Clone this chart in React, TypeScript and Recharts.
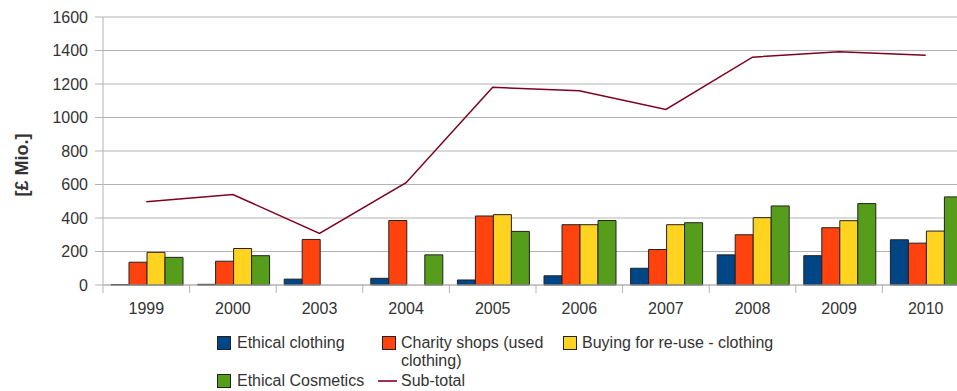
import React from "react"
import { ComposedChart, Bar, Line, XAxis, YAxis, CartesianGrid } from "recharts"

const years = ["1999", "2000", "2003", "2004", "2005", "2006", "2007", "2008", "2009", "2010"]
const ethicalClothing = [3, 4, 35, 40, 30, 55, 100, 180, 175, 270]
const charityShops = [136, 142, 272, 385, 412, 360, 212, 300, 342, 250]
const buyingReuse = [195, 218, null, null, 420, 360, 360, 402, 384, 322]
const ethicalCosmetics = [165, 175, null, 180, 320, 385, 372, 472, 486, 526]
const subTotal = [497, 540, 308, 611, 1180, 1160, 1048, 1360, 1392, 1372]
const yTicks = [0, 200, 400, 600, 800, 1000, 1200, 1400, 1600]

const COLORS = ["#004586", "#ff420e", "#ffd320", "#579d1c", "#7e0021"]
const GRID = "#b3b3b3"
const TEXT = "#333333"
const FONT = "'Liberation Sans', Arial, sans-serif"

const data = years.map((year, i) => ({
  year,
  ethical: ethicalClothing[i],
  charity: charityShops[i],
  reuse: buyingReuse[i],
  cosmetics: ethicalCosmetics[i],
  subtotal: subTotal[i],
}))

const CHART_W = 980
const PLOT_LEFT = 103
const PLOT_RIGHT = 969
const BAND = (PLOT_RIGHT - PLOT_LEFT) / years.length

const XTick = (props: any) => {
  const { x, y, payload, index } = props
  const top = y - 10
  return (
    <g>
      <line x1={x - BAND / 2} x2={x - BAND / 2} y1={top} y2={top + 8} stroke={GRID} />
      {index === years.length - 1 && (
        <line x1={x + BAND / 2} x2={x + BAND / 2} y1={top} y2={top + 8} stroke={GRID} />
      )}
      <text x={x} y={y} dy={19} textAnchor="middle" fill={TEXT} fontSize={16} fontFamily={FONT}>
        {payload.value}
      </text>
    </g>
  )
}

const YLabel = () => (
  <text
    x={28}
    y={165}
    transform="rotate(-90 28 165)"
    textAnchor="middle"
    fill={TEXT}
    fontSize={18}
    fontWeight="bold"
    fontFamily={FONT}
  >
    [£ Mio.]
  </text>
)

const Swatch = ({ color, left, top }: { color: string; left: number; top: number }) => (
  <div
    style={{
      position: "absolute",
      left,
      top,
      width: 12,
      height: 12,
      background: color,
      border: "1px solid #222",
    }}
  />
)

const LegendText = ({ left, top, children }: { left: number; top: number; children: React.ReactNode }) => (
  <div style={{ position: "absolute", left, top, fontSize: 16, lineHeight: "18px", color: TEXT, whiteSpace: "nowrap" }}>
    {children}
  </div>
)

export default function App() {
  return (
    <div
      style={{
        position: "absolute",
        left: 0,
        top: 0,
        width: 957,
        height: 391,
        overflow: "hidden",
        background: "#fff",
        fontFamily: FONT,
      }}
    >
      <ComposedChart
        width={CHART_W}
        height={330}
        data={data}
        margin={{ top: 17, right: CHART_W - PLOT_RIGHT, left: 0, bottom: 0 }}
        barCategoryGap={8}
        barGap={0}
      >
        <CartesianGrid vertical={false} stroke={GRID} />
        <XAxis
          dataKey="year"
          height={45}
          tickSize={8}
          tickMargin={2}
          tickLine={false}
          axisLine={{ stroke: GRID }}
          tick={<XTick />}
          interval={0}
        />
        <YAxis
          width={PLOT_LEFT}
          domain={[0, 1600]}
          ticks={yTicks}
          tickSize={8}
          tickMargin={7}
          tickLine={{ stroke: GRID }}
          axisLine={{ stroke: GRID }}
          tick={{ fill: TEXT, fontSize: 16, fontFamily: FONT }}
          label={<YLabel />}
        />
        <Bar dataKey="ethical" fill={COLORS[0]} stroke="#222" strokeWidth={1} isAnimationActive={false} />
        <Bar dataKey="charity" fill={COLORS[1]} stroke="#222" strokeWidth={1} isAnimationActive={false} />
        <Bar dataKey="reuse" fill={COLORS[2]} stroke="#222" strokeWidth={1} isAnimationActive={false} />
        <Bar dataKey="cosmetics" fill={COLORS[3]} stroke="#222" strokeWidth={1} isAnimationActive={false} />
        <Line
          type="linear"
          dataKey="subtotal"
          stroke={COLORS[4]}
          strokeWidth={1.5}
          dot={false}
          isAnimationActive={false}
        />
      </ComposedChart>

      <Swatch color={COLORS[0]} left={217} top={336} />
      <LegendText left={237} top={334}>Ethical clothing</LegendText>
      <Swatch color={COLORS[1]} left={382} top={336} />
      <LegendText left={401} top={334}>
        Charity shops (used
        <br />
        clothing)
      </LegendText>
      <Swatch color={COLORS[2]} left={563} top={336} />
      <LegendText left={582} top={334}>Buying for re-use - clothing</LegendText>
      <Swatch color={COLORS[3]} left={217} top={374} />
      <LegendText left={237} top={372}>Ethical Cosmetics</LegendText>
      <div style={{ position: "absolute", left: 378, top: 380, width: 19, height: 2, background: "#a03050" }} />
      <LegendText left={401} top={372}>Sub-total</LegendText>
    </div>
  )
}
